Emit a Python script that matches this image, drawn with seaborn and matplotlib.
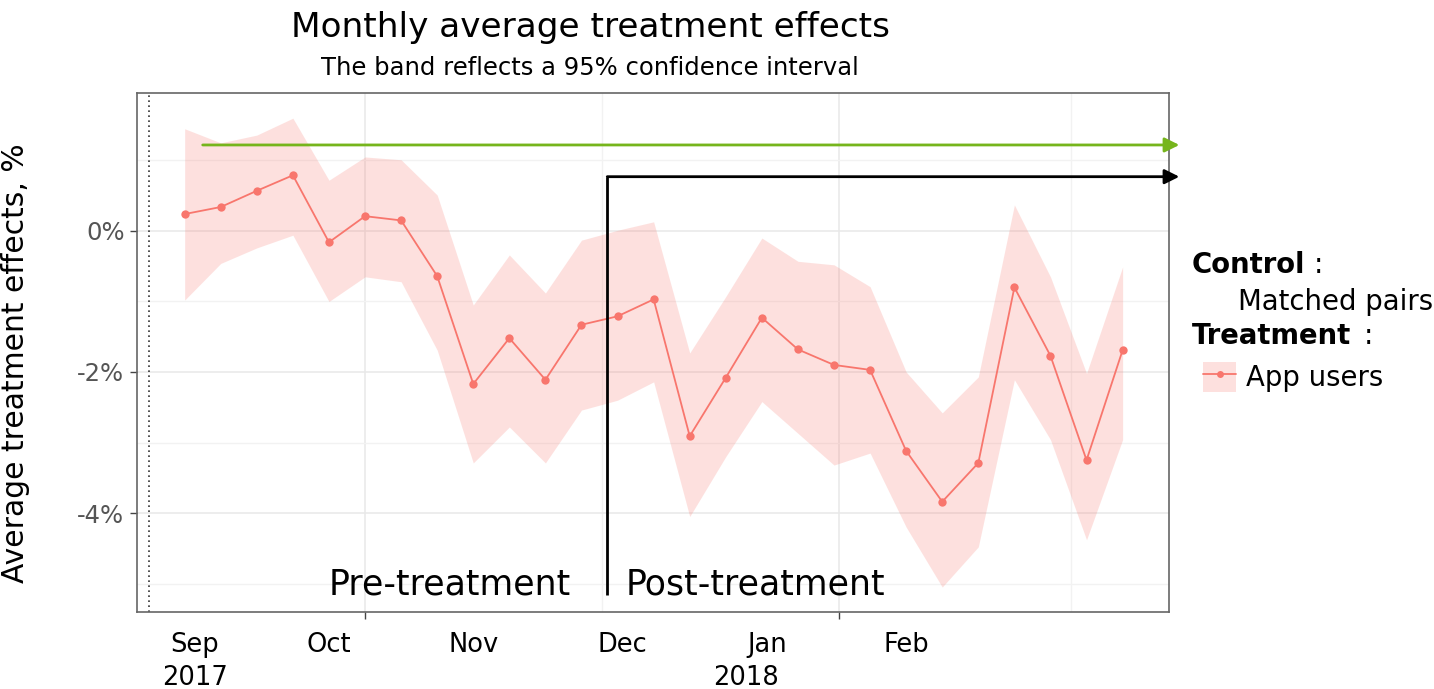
import pandas as pd
import matplotlib
matplotlib.use("Agg")
import matplotlib.pyplot as plt
import matplotlib.transforms as mtransforms
from matplotlib.lines import Line2D
from matplotlib.patches import Patch
import seaborn as sns

# Weekly estimates (%)
weeks = pd.date_range("2017-08-27", periods=27, freq="7D")
effect = [0.24, 0.34, 0.57, 0.79, -0.16, 0.21, 0.15, -0.64, -2.17, -1.52,
          -2.11, -1.33, -1.21, -0.97, -2.91, -2.08, -1.23, -1.68, -1.90, -1.97,
          -3.12, -3.84, -3.29, -0.80, -1.77, -3.25, -1.69]
ci_upper = [1.45, 1.25, 1.36, 1.60, 0.72, 1.05, 1.01, 0.51, -1.05, -0.34,
            -0.88, -0.13, 0.01, 0.13, -1.73, -0.93, -0.10, -0.43, -0.48, -0.79,
            -2.00, -2.58, -2.07, 0.37, -0.65, -2.02, -0.51]
ci_lower = [-0.98, -0.46, -0.24, -0.06, -1.00, -0.65, -0.72, -1.69, -3.29, -2.78,
            -3.29, -2.54, -2.40, -2.14, -4.05, -3.20, -2.42, -2.87, -3.32, -3.15,
            -4.20, -5.05, -4.48, -2.11, -2.96, -4.38, -2.96]

month_labels = ["Sep", "Oct", "Nov", "Dec", "Jan", "Feb"]
month_label_dates = pd.to_datetime(["2017-08-29", "2017-09-24", "2017-10-22",
                                    "2017-11-20", "2017-12-18", "2018-01-14"])
year_labels = ["2017", "2018"]
year_label_dates = pd.to_datetime(["2017-08-29", "2017-12-14"])

treatment_start = pd.Timestamp("2017-11-17")
reference_date = pd.Timestamp("2017-08-20")

df = pd.DataFrame({"week": weeks, "effect": effect,
                   "upper": ci_upper, "lower": ci_lower})

sns.set_theme(style="whitegrid")
plt.rcParams["font.family"] = ["DejaVu Sans"]
plt.rcParams["text.color"] = "black"

red = "#F8766D"
fig = plt.figure(figsize=(14.34, 6.89), dpi=100)
ax = fig.add_axes([137 / 1434, 77 / 689, 1032 / 1434, 519 / 689])
ax.set_facecolor("white")

ax.fill_between(df["week"], df["lower"], df["upper"], color=red, alpha=0.22,
                linewidth=0)
sns.lineplot(data=df, x="week", y="effect", color=red, marker="o",
             markersize=6, markeredgewidth=0, linewidth=1.3, ax=ax)

ax.set_xlim(pd.Timestamp("2017-08-17 18:00"), pd.Timestamp("2018-03-06"))
ax.set_ylim(-5.404, 1.957)

# grid
ax.set_yticks([0, -2, -4])
ax.set_yticklabels(["0%", "-2%", "-4%"], fontsize=17.5, color="#555555")
ax.set_yticks([1, -1, -3, -5], minor=True)
ax.set_xticks(pd.to_datetime(["2017-10-01", "2018-01-01"]))
ax.set_xticklabels([])
ax.set_xticks(pd.to_datetime(["2017-11-16", "2018-02-15"]), minor=True)
ax.grid(which="major", color="#e8e8e8", linewidth=1.1)
ax.grid(which="minor", color="#f2f2f2", linewidth=1.0)
ax.tick_params(which="major", length=5, width=1, color="#444444",
               left=True, bottom=True, pad=4)
ax.tick_params(which="minor", length=0)
for side in ["left", "bottom", "right", "top"]:
    ax.spines[side].set_color("#666666")
    ax.spines[side].set_linewidth(1.2)
ax.set_xlabel("")
ax.set_ylabel("Average treatment effects, %", fontsize=21.4, color="black")
ax.yaxis.set_label_coords(-0.104, 0.48)

# reference dotted line
ax.axvline(reference_date, color="#333333", linestyle=(0, (1, 2)), linewidth=1.2)

# arrows
ax.annotate("", xy=(1.01, 1.22), xycoords=("axes fraction", "data"),
            xytext=(pd.Timestamp("2017-08-30 12:00"), 1.22), textcoords="data",
            arrowprops=dict(arrowstyle="-|>", color="#76b51c", lw=2,
                            mutation_scale=22, shrinkA=0, shrinkB=0),
            annotation_clip=False)
ax.plot([treatment_start, treatment_start], [-5.16, 0.77], color="black",
        linewidth=2, clip_on=False, solid_capstyle="butt")
ax.annotate("", xy=(1.01, 0.77), xycoords=("axes fraction", "data"),
            xytext=(treatment_start, 0.77), textcoords="data",
            arrowprops=dict(arrowstyle="-|>", color="black", lw=2,
                            mutation_scale=22, shrinkA=0, shrinkB=0),
            annotation_clip=False)

ax.annotate("Pre-treatment", xy=(treatment_start, -5.16), xytext=(-26, 0),
            textcoords="offset points", ha="right", va="baseline",
            fontsize=25, color="black")
ax.annotate("Post-treatment", xy=(treatment_start, -5.16), xytext=(13, 0),
            textcoords="offset points", ha="left", va="baseline",
            fontsize=25, color="black")

# custom month labels
trans = mtransforms.blended_transform_factory(ax.transData, ax.transAxes)
for d, lab in zip(month_label_dates, month_labels):
    ax.text(d, -0.064, lab, transform=trans, ha="center", va="center",
            fontsize=18.5, color="black")
for d, lab in zip(year_label_dates, year_labels):
    ax.text(d, -0.127, lab, transform=trans, ha="center", va="center",
            fontsize=18.5, color="black")

# titles
fig.text(590 / 1434, 1 - 28 / 689, "Monthly average treatment effects",
         ha="center", va="center", fontsize=24.7)
fig.text(590 / 1434, 1 - 68 / 689, "The band reflects a 95% confidence interval",
         ha="center", va="center", fontsize=17.5)

# legend block
fig.text(1192 / 1434, 1 - 265 / 689, "Control", fontweight="bold",
         ha="left", va="center", fontsize=19.8)
fig.text(1314 / 1434, 1 - 265 / 689, ":", ha="left", va="center", fontsize=19.8)
fig.text(1238 / 1434, 1 - 302 / 689, "Matched pairs", ha="left", va="center",
         fontsize=19.8)
fig.text(1192 / 1434, 1 - 336 / 689, "Treatment", fontweight="bold",
         ha="left", va="center", fontsize=19.8)
fig.text(1364 / 1434, 1 - 336 / 689, ":", ha="left", va="center", fontsize=19.8)
handle = (Patch(facecolor=red, alpha=0.22, edgecolor="none"),
          Line2D([], [], color=red, marker="o", markersize=5, linewidth=1.3,
                 markeredgewidth=0))
fig.legend([handle], ["App users"], loc="center left",
           bbox_to_anchor=(1203 / 1434, 1 - 377 / 689), frameon=False,
           fontsize=19.8, handlelength=1.2, handleheight=1.3, handletextpad=0.35,
           borderpad=0, borderaxespad=0)

fig.savefig("out.png", dpi=100, facecolor="white")
